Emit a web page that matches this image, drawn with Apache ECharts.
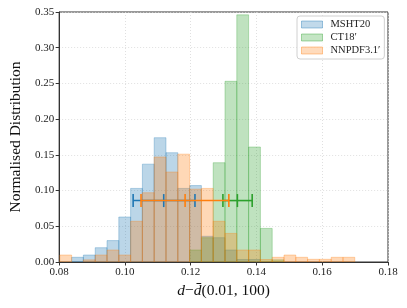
<!DOCTYPE html>
<html>
<head>
<meta charset="utf-8">
<script src="https://cdn.jsdelivr.net/npm/echarts@6/dist/echarts.min.js"></script>
<style>html,body{margin:0;padding:0;background:#fff}#c{width:407px;height:308px}</style>
</head>
<body>
<div id="c"></div>
<script>
// ---- data ----
const binStart = 0.0802;
const binWidth = 0.003588;
const msht20 = [0, 0.0066, 0.0098, 0.020, 0.030, 0.063, 0.103, 0.137, 0.174, 0.153, 0.103, 0.107, 0.036, 0.034, 0.0168, 0.0035, 0.0035, 0, 0, 0, 0, 0, 0, 0, 0];
const ct18 = [0, 0, 0, 0, 0, 0, 0, 0, 0, 0, 0, 0.0168, 0.034, 0.139, 0.253, 0.346, 0.161, 0.047, 0.003, 0, 0, 0, 0, 0, 0];
const nnpdf = [0.0098, 0, 0.003, 0.0098, 0.0168, 0.0098, 0.057, 0.097, 0.147, 0.126, 0.151, 0.102, 0.103, 0.057, 0.040, 0.0168, 0.0168, 0.0035, 0.0066, 0.0098, 0.0066, 0.0038, 0.0038, 0.0066, 0.0066];
const seriesNames = ['MSHT20', 'CT18\u2032', 'NNPDF3.1\u2032'];
const errCenter = [0.1118, 0.1342, 0.1183];
const errLow = [0.1025, 0.1298, 0.1049];
const errHigh = [0.1213, 0.1387, 0.1316];
const errY = 0.086;

// ---- styles ----
const FONT = '"Liberation Serif", "DejaVu Serif", serif';
const base = [[31,119,180],[44,160,44],[255,127,14]];
const fills = base.map(c => `rgba(${c[0]},${c[1]},${c[2]},0.3)`);
const legFills = base.map(c => `rgba(${c[0]},${c[1]},${c[2]},0.28)`);
const legEdges = base.map(c => `rgba(${c[0]},${c[1]},${c[2]},0.4)`);
const solid = base.map(c => `rgb(${c[0]},${c[1]},${c[2]})`);

function histData(vals) {
  return vals.map((v, i) => [binStart + i * binWidth, binStart + (i + 1) * binWidth, v]);
}
function histSeries(name, vals, idx) {
  return {
    type: 'custom', name: name, clip: true, z: 2,
    itemStyle: { color: legFills[idx] },
    encode: { x: [0, 1], y: 2 },
    data: histData(vals),
    renderItem: function (params, api) {
      const v = api.value(2);
      if (!v) return null;
      const p0 = api.coord([api.value(0), v]);
      const p1 = api.coord([api.value(1), 0]);
      return {
        type: 'rect',
        shape: { x: p0[0], y: p0[1], width: p1[0] - p0[0], height: p1[1] - p0[1] },
        style: { fill: fills[idx], stroke: fills[idx], lineWidth: 1 }
      };
    }
  };
}
function errSeries(idx) {
  return {
    type: 'custom', z: 5, silent: true,
    encode: { x: [0, 1, 2], y: 3 },
    data: [[errLow[idx], errCenter[idx], errHigh[idx], errY]],
    renderItem: function (params, api) {
      const a = api.coord([api.value(0), api.value(3)]);
      const m = api.coord([api.value(1), api.value(3)]);
      const b = api.coord([api.value(2), api.value(3)]);
      const h = 6.5;
      const st = { stroke: solid[idx], lineWidth: 1.6 };
      return {
        type: 'group',
        children: [
          { type: 'line', shape: { x1: a[0], y1: a[1], x2: b[0], y2: b[1] }, style: st },
          { type: 'line', shape: { x1: a[0], y1: a[1] - h, x2: a[0], y2: a[1] + h }, style: st },
          { type: 'line', shape: { x1: m[0], y1: m[1] - h, x2: m[0], y2: m[1] + h }, style: st },
          { type: 'line', shape: { x1: b[0], y1: b[1] - h, x2: b[0], y2: b[1] + h }, style: st }
        ]
      };
    }
  };
}

const chart = echarts.init(document.getElementById('c'), null, { renderer: 'canvas' });
chart.setOption({
  animation: false,
  backgroundColor: '#fff',
  grid: { left: 53, right: 19, top: 12, bottom: 46, show: true, borderColor: '#333', borderWidth: 1, backgroundColor: 'transparent' },
  legend: {
    data: seriesNames.map((n, i) => ({
      name: n,
      itemStyle: { color: legFills[i], borderColor: legEdges[i], borderWidth: 1 }
    })),
    orient: 'vertical',
    left: 297, top: 16,
    padding: [3, 4, 3, 4],
    itemGap: 2,
    itemWidth: 21, itemHeight: 7,
    backgroundColor: 'rgba(255,255,255,0.8)',
    borderColor: '#d0d0d0', borderWidth: 1, borderRadius: 3,
    icon: 'rect',
    textStyle: { fontFamily: FONT, fontSize: 10.5, color: '#222', padding: [0, 0, 0, 3] }
  },
  xAxis: {
    type: 'value', min: 0.08, max: 0.18, interval: 0.02,
    name: '{i|d}\u2212{i|d\u0304}(0.01, 100)',
    nameLocation: 'middle', nameGap: 18,
    nameTextStyle: {
      fontFamily: FONT, fontSize: 15.5, color: '#111',
      rich: { i: { fontFamily: FONT, fontSize: 15.5, fontStyle: 'italic', color: '#111' } }
    },
    axisLine: { show: true, lineStyle: { color: '#333', width: 1 } },
    axisTick: { show: true, inside: false, length: 3.5, lineStyle: { color: '#333' } },
    axisLabel: { fontFamily: FONT, fontSize: 11, color: '#222', margin: 5, formatter: v => v.toFixed(2) },
    splitLine: { show: true, lineStyle: { color: '#d8d8d8', type: [1, 2], width: 0.8 } }
  },
  yAxis: {
    type: 'value', min: 0, max: 0.35, interval: 0.05,
    name: 'Normalised Distribution',
    nameLocation: 'middle', nameGap: 33,
    nameTextStyle: { fontFamily: FONT, fontSize: 15.5, color: '#111' },
    axisLine: { show: true, lineStyle: { color: '#333', width: 1 } },
    axisTick: { show: true, inside: false, length: 3.5, lineStyle: { color: '#333' } },
    axisLabel: { fontFamily: FONT, fontSize: 11, color: '#222', margin: 5, formatter: v => v.toFixed(2) },
    splitLine: { show: true, lineStyle: { color: '#d8d8d8', type: [1, 2], width: 0.8 } }
  },
  series: [
    histSeries(seriesNames[0], msht20, 0),
    histSeries(seriesNames[1], ct18, 1),
    histSeries(seriesNames[2], nnpdf, 2),
    errSeries(0), errSeries(1), errSeries(2)
  ]
});
</script>
</body>
</html>
